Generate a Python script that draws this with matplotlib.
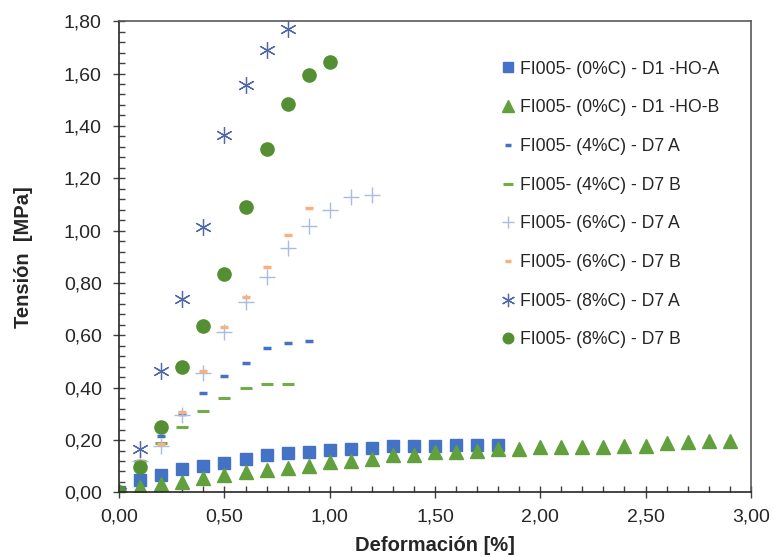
import matplotlib.pyplot as plt
from matplotlib.ticker import MultipleLocator, FuncFormatter

plt.rcParams['font.family'] = ['Liberation Sans', 'DejaVu Sans']

# FI005- (0%C) - D1 -HO-A  (squares)
x_ho_a = [0.0, 0.1, 0.2, 0.3, 0.4, 0.5, 0.6, 0.7, 0.8, 0.9, 1.0, 1.1, 1.2, 1.3, 1.4, 1.5, 1.6, 1.7, 1.8]
y_ho_a = [0.0, 0.048, 0.067, 0.089, 0.102, 0.111, 0.127, 0.143, 0.152, 0.156, 0.161, 0.167, 0.168,
          0.177, 0.177, 0.177, 0.181, 0.181, 0.181]

# FI005- (0%C) - D1 -HO-B  (triangles)
x_ho_b = [0.0, 0.1, 0.2, 0.3, 0.4, 0.5, 0.6, 0.7, 0.8, 0.9, 1.0, 1.1, 1.2, 1.3, 1.4, 1.5, 1.6, 1.7, 1.8, 1.9,
          2.0, 2.1, 2.2, 2.3, 2.4, 2.5, 2.6, 2.7, 2.8, 2.9]
y_ho_b = [0.0, 0.02, 0.031, 0.041, 0.054, 0.067, 0.076, 0.086, 0.092, 0.099, 0.116, 0.119, 0.129, 0.143,
          0.143, 0.154, 0.156, 0.16, 0.165, 0.166, 0.175, 0.175, 0.175, 0.175, 0.179, 0.179, 0.188,
          0.192, 0.197, 0.197]

# 4%C
x_4a = [0.0, 0.1, 0.2, 0.3, 0.4, 0.5, 0.6, 0.7, 0.8, 0.9]
y_4a = [0.0, 0.12, 0.216, 0.30, 0.381, 0.445, 0.493, 0.55, 0.572, 0.577]
x_4b = [0.0, 0.1, 0.2, 0.3, 0.4, 0.5, 0.6, 0.7, 0.8]
y_4b = [0.0, 0.12, 0.19, 0.249, 0.312, 0.36, 0.398, 0.414, 0.414]

# 6%C
x_6a = [0.0, 0.1, 0.2, 0.3, 0.4, 0.5, 0.6, 0.7, 0.8, 0.9, 1.0, 1.1, 1.2]
y_6a = [0.0, 0.12, 0.177, 0.296, 0.457, 0.614, 0.728, 0.824, 0.932, 1.017, 1.078, 1.13, 1.135]
x_6b = [0.0, 0.1, 0.2, 0.3, 0.4, 0.5, 0.6, 0.7, 0.8, 0.9]
y_6b = [0.0, 0.12, 0.185, 0.308, 0.465, 0.63, 0.745, 0.862, 0.985, 1.085]

# 8%C
x_8a = [0.0, 0.1, 0.2, 0.3, 0.4, 0.5, 0.6, 0.7, 0.8]
y_8a = [0.0, 0.165, 0.465, 0.74, 1.012, 1.365, 1.558, 1.69, 1.77]
x_8b = [0.0, 0.1, 0.2, 0.3, 0.4, 0.5, 0.6, 0.7, 0.8, 0.9, 1.0]
y_8b = [0.0, 0.096, 0.251, 0.478, 0.636, 0.834, 1.091, 1.311, 1.482, 1.593, 1.644]

labels = ['FI005- (0%C) - D1 -HO-A', 'FI005- (0%C) - D1 -HO-B',
          'FI005- (4%C) - D7 A', 'FI005- (4%C) - D7 B',
          'FI005- (6%C) - D7 A', 'FI005- (6%C) - D7 B',
          'FI005- (8%C) - D7 A', 'FI005- (8%C) - D7 B']

fig = plt.figure(figsize=(7.74, 5.57), dpi=100)
ax = fig.add_axes([0.154, 0.116, 0.816, 0.846])

ax.plot(x_ho_a, y_ho_a, ls='none', marker='s', ms=9, color='#4472c4', mec='#4472c4', label=labels[0])
ax.plot(x_ho_b, y_ho_b, ls='none', marker='^', ms=10, color='#62a03d', mec='#62a03d', label=labels[1])
ax.plot(x_4a, y_4a, ls='none', marker='_', ms=6, mew=2.5, color='#4472c4', label=labels[2])
ax.plot(x_4b, y_4b, ls='none', marker='_', ms=9, mew=2.2, color='#70ad47', label=labels[3])
ax.plot(x_6a, y_6a, ls='none', marker='+', ms=11, mew=1.0, color='#a9bcdc', label=labels[4])
ax.plot(x_6b, y_6b, ls='none', marker='_', ms=6, mew=2.5, color='#f4b183', label=labels[5])
ax.plot(x_8a, y_8a, ls='none', marker=(6, 2, 0), ms=12, mew=0.9, color='#5068a8', label=labels[6])
ax.plot(x_8b, y_8b, ls='none', marker='o', ms=9.5, color='#548f34', mec='#548f34', label=labels[7])

ax.set_xlim(0, 3.0)
ax.set_ylim(0, 1.8)
ax.xaxis.set_major_locator(MultipleLocator(0.5))
ax.xaxis.set_minor_locator(MultipleLocator(0.1))
ax.yaxis.set_major_locator(MultipleLocator(0.2))
ax.yaxis.set_minor_locator(MultipleLocator(0.04))
comma = FuncFormatter(lambda v, p: f'{v:.2f}'.replace('.', ','))
ax.xaxis.set_major_formatter(comma)
ax.yaxis.set_major_formatter(comma)

ax.tick_params(which='major', direction='inout', length=9, width=1, color='#404040',
               labelsize=14, labelcolor='#262626')
ax.tick_params(which='minor', direction='in', length=4.5, width=1, color='#404040')
ax.tick_params(axis='y', which='major', pad=8)
ax.tick_params(axis='x', which='major', pad=7)
for s in ax.spines.values():
    s.set_color('#595959')
    s.set_linewidth(1.2)
ax.spines['left'].set_color('#262626')
ax.spines['bottom'].set_color('#262626')

ax.set_xlabel('Deformación [%]', fontsize=14.5, fontweight='bold', color='#262626', labelpad=8)
ax.set_ylabel('Tensión  [MPa]', fontsize=14.5, fontweight='bold', color='#262626', labelpad=22)

ax.legend(loc='upper left', bbox_to_anchor=(0.579, 0.95), frameon=False, fontsize=12.7,
          labelspacing=1.23, handlelength=0.8, handletextpad=0.3, markerscale=0.8,
          labelcolor='#262626')

plt.savefig('out.png', dpi=100)
